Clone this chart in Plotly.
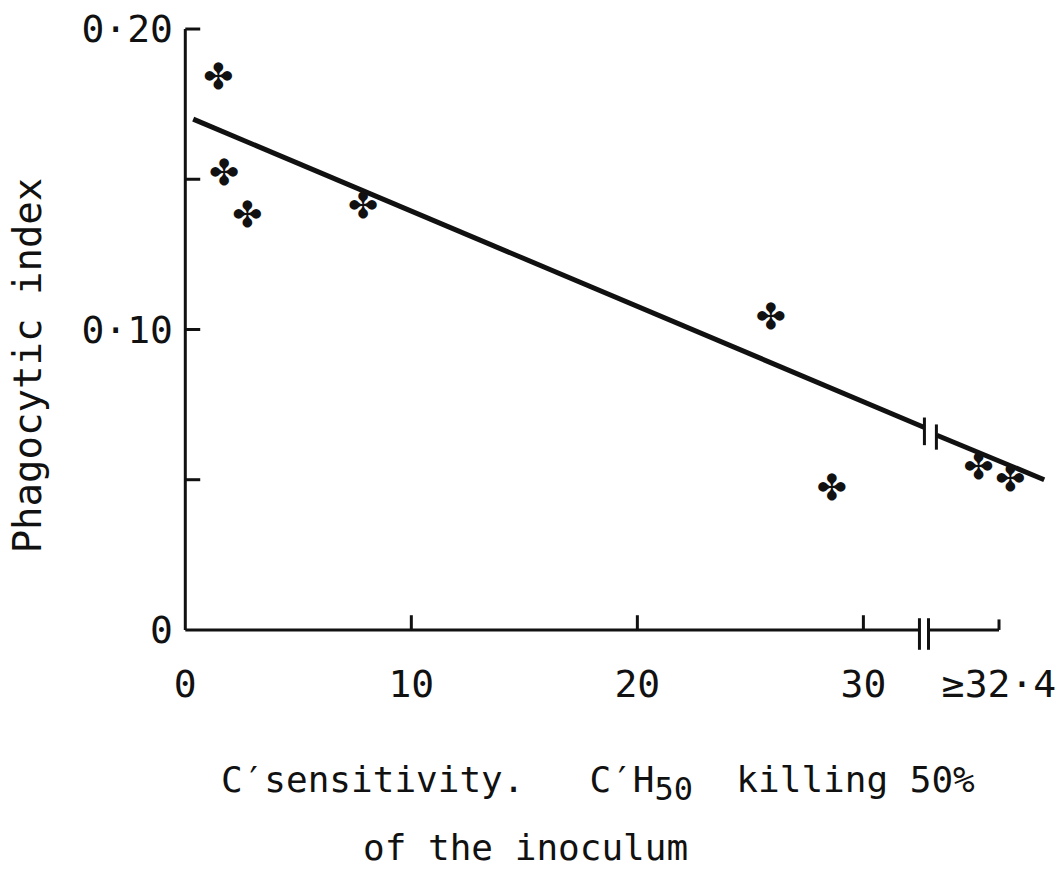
import plotly.graph_objects as go

# ---- data ----
sens_x = [1.46, 1.72, 2.74, 7.87, 25.9, 28.6, 35.1, 36.5]
phago_y = [0.183, 0.151, 0.137, 0.140, 0.1033, 0.0464, 0.0533, 0.0493]

# fitted line, drawn as two pieces around the axis break
fit_x = [0.35, 32.7, None, 33.25, 38.0]
fit_y = [0.170, 0.0674, None, 0.0648, 0.050]

x_tickvals = [0, 10, 20, 30, 36]
x_ticktext = ["0", "10", "20", "30", "\u226532\u00b74"]
y_tickvals = [0, 0.10, 0.20]
y_ticktext = ["0", "0\u00b710", "0\u00b720"]

x_minor_ticks = [10, 20, 30]
y_minor_ticks = [0.05, 0.10, 0.15, 0.20]
x_axis_end = 36.0
x_break = [32.48, 32.88]
line_break_x = [32.7, 33.23]
line_break_y = [(0.0615, 0.0707), (0.0600, 0.0684)]

FONT = "DejaVu Sans Mono"
MARK_FONT = "DejaVu Sans"
INK = "#111111"

fig = go.Figure()

fig.add_trace(go.Scatter(
    x=fit_x, y=fit_y, mode="lines",
    line=dict(color=INK, width=5), connectgaps=False,
    hoverinfo="skip", showlegend=False,
))

fig.add_trace(go.Scatter(
    x=sens_x, y=phago_y, mode="text", text=["\u2724"] * len(sens_x),
    textposition="middle center",
    textfont=dict(family=MARK_FONT, size=36, color=INK),
    cliponaxis=False, showlegend=False,
))

shapes = []
lw = 3
shapes.append(dict(type="line", xref="x", yref="y", x0=0, x1=0, y0=0, y1=0.2,
                   line=dict(color=INK, width=lw)))
shapes.append(dict(type="line", xref="x", yref="y", x0=0, x1=x_break[0], y0=0, y1=0,
                   line=dict(color=INK, width=lw)))
shapes.append(dict(type="line", xref="x", yref="y", x0=x_break[1], x1=x_axis_end, y0=0, y1=0,
                   line=dict(color=INK, width=lw)))
for xb in x_break:
    shapes.append(dict(type="line", xref="x", yref="y", x0=xb, x1=xb, y0=-0.0066, y1=0.0039,
                       line=dict(color=INK, width=lw)))
for xt in x_minor_ticks:
    shapes.append(dict(type="line", xref="x", yref="y", x0=xt, x1=xt, y0=0, y1=0.0049,
                       line=dict(color=INK, width=lw)))
shapes.append(dict(type="line", xref="x", yref="y", x0=x_axis_end, x1=x_axis_end, y0=0, y1=0.0035,
                   line=dict(color=INK, width=lw)))
for yt in y_minor_ticks:
    shapes.append(dict(type="line", xref="x", yref="y", x0=0, x1=0.66, y0=yt, y1=yt,
                       line=dict(color=INK, width=lw)))
for bx, (b0, b1) in zip(line_break_x, line_break_y):
    shapes.append(dict(type="line", xref="x", yref="y", x0=bx, x1=bx, y0=b0, y1=b1,
                       line=dict(color=INK, width=lw)))

annotations = [
    dict(text="Phagocytic\u00a0index", xref="paper", yref="y", x=-0.166, y=0.0882,
         textangle=-90, showarrow=False, xanchor="center", yanchor="middle",
         font=dict(family=FONT, size=39, color=INK)),
    dict(text="C\u2032sensitivity.\u00a0\u00a0\u00a0C\u2032H<sub><span style=\"font-size:32px\">50</span></sub>"
              "\u00a0\u00a0killing\u00a050%",
         xref="paper", yref="paper", x=0.484, y=-0.1806,
         showarrow=False, xanchor="center", yanchor="middle",
         font=dict(family=FONT, size=36, color=INK)),
    dict(text="of\u00a0the\u00a0inoculum", xref="paper", yref="paper",
         x=0.401, y=-0.279,
         showarrow=False, xanchor="center", yanchor="middle",
         font=dict(family=FONT, size=36, color=INK)),
]

fig.update_layout(
    width=1063, height=871,
    margin=dict(l=174, r=11, t=7, b=205),
    paper_bgcolor="white", plot_bgcolor="white",
    font=dict(family=FONT, color=INK),
    shapes=shapes, annotations=annotations,
    xaxis=dict(range=[-0.5, 38.3], tickvals=x_tickvals, ticktext=x_ticktext,
               showgrid=False, zeroline=False, showline=False, ticks="",
               ticklabeloverflow="allow", ticklabelstandoff=-8,
               tickfont=dict(family=FONT, size=38, color=INK)),
    yaxis=dict(range=[-0.012, 0.205], tickvals=y_tickvals, ticktext=y_ticktext,
               showgrid=False, zeroline=False, showline=False, ticks="",
               ticklabeloverflow="allow",
               tickfont=dict(family=FONT, size=38, color=INK)),
    showlegend=False,
)

fig.write_html("out.html")
